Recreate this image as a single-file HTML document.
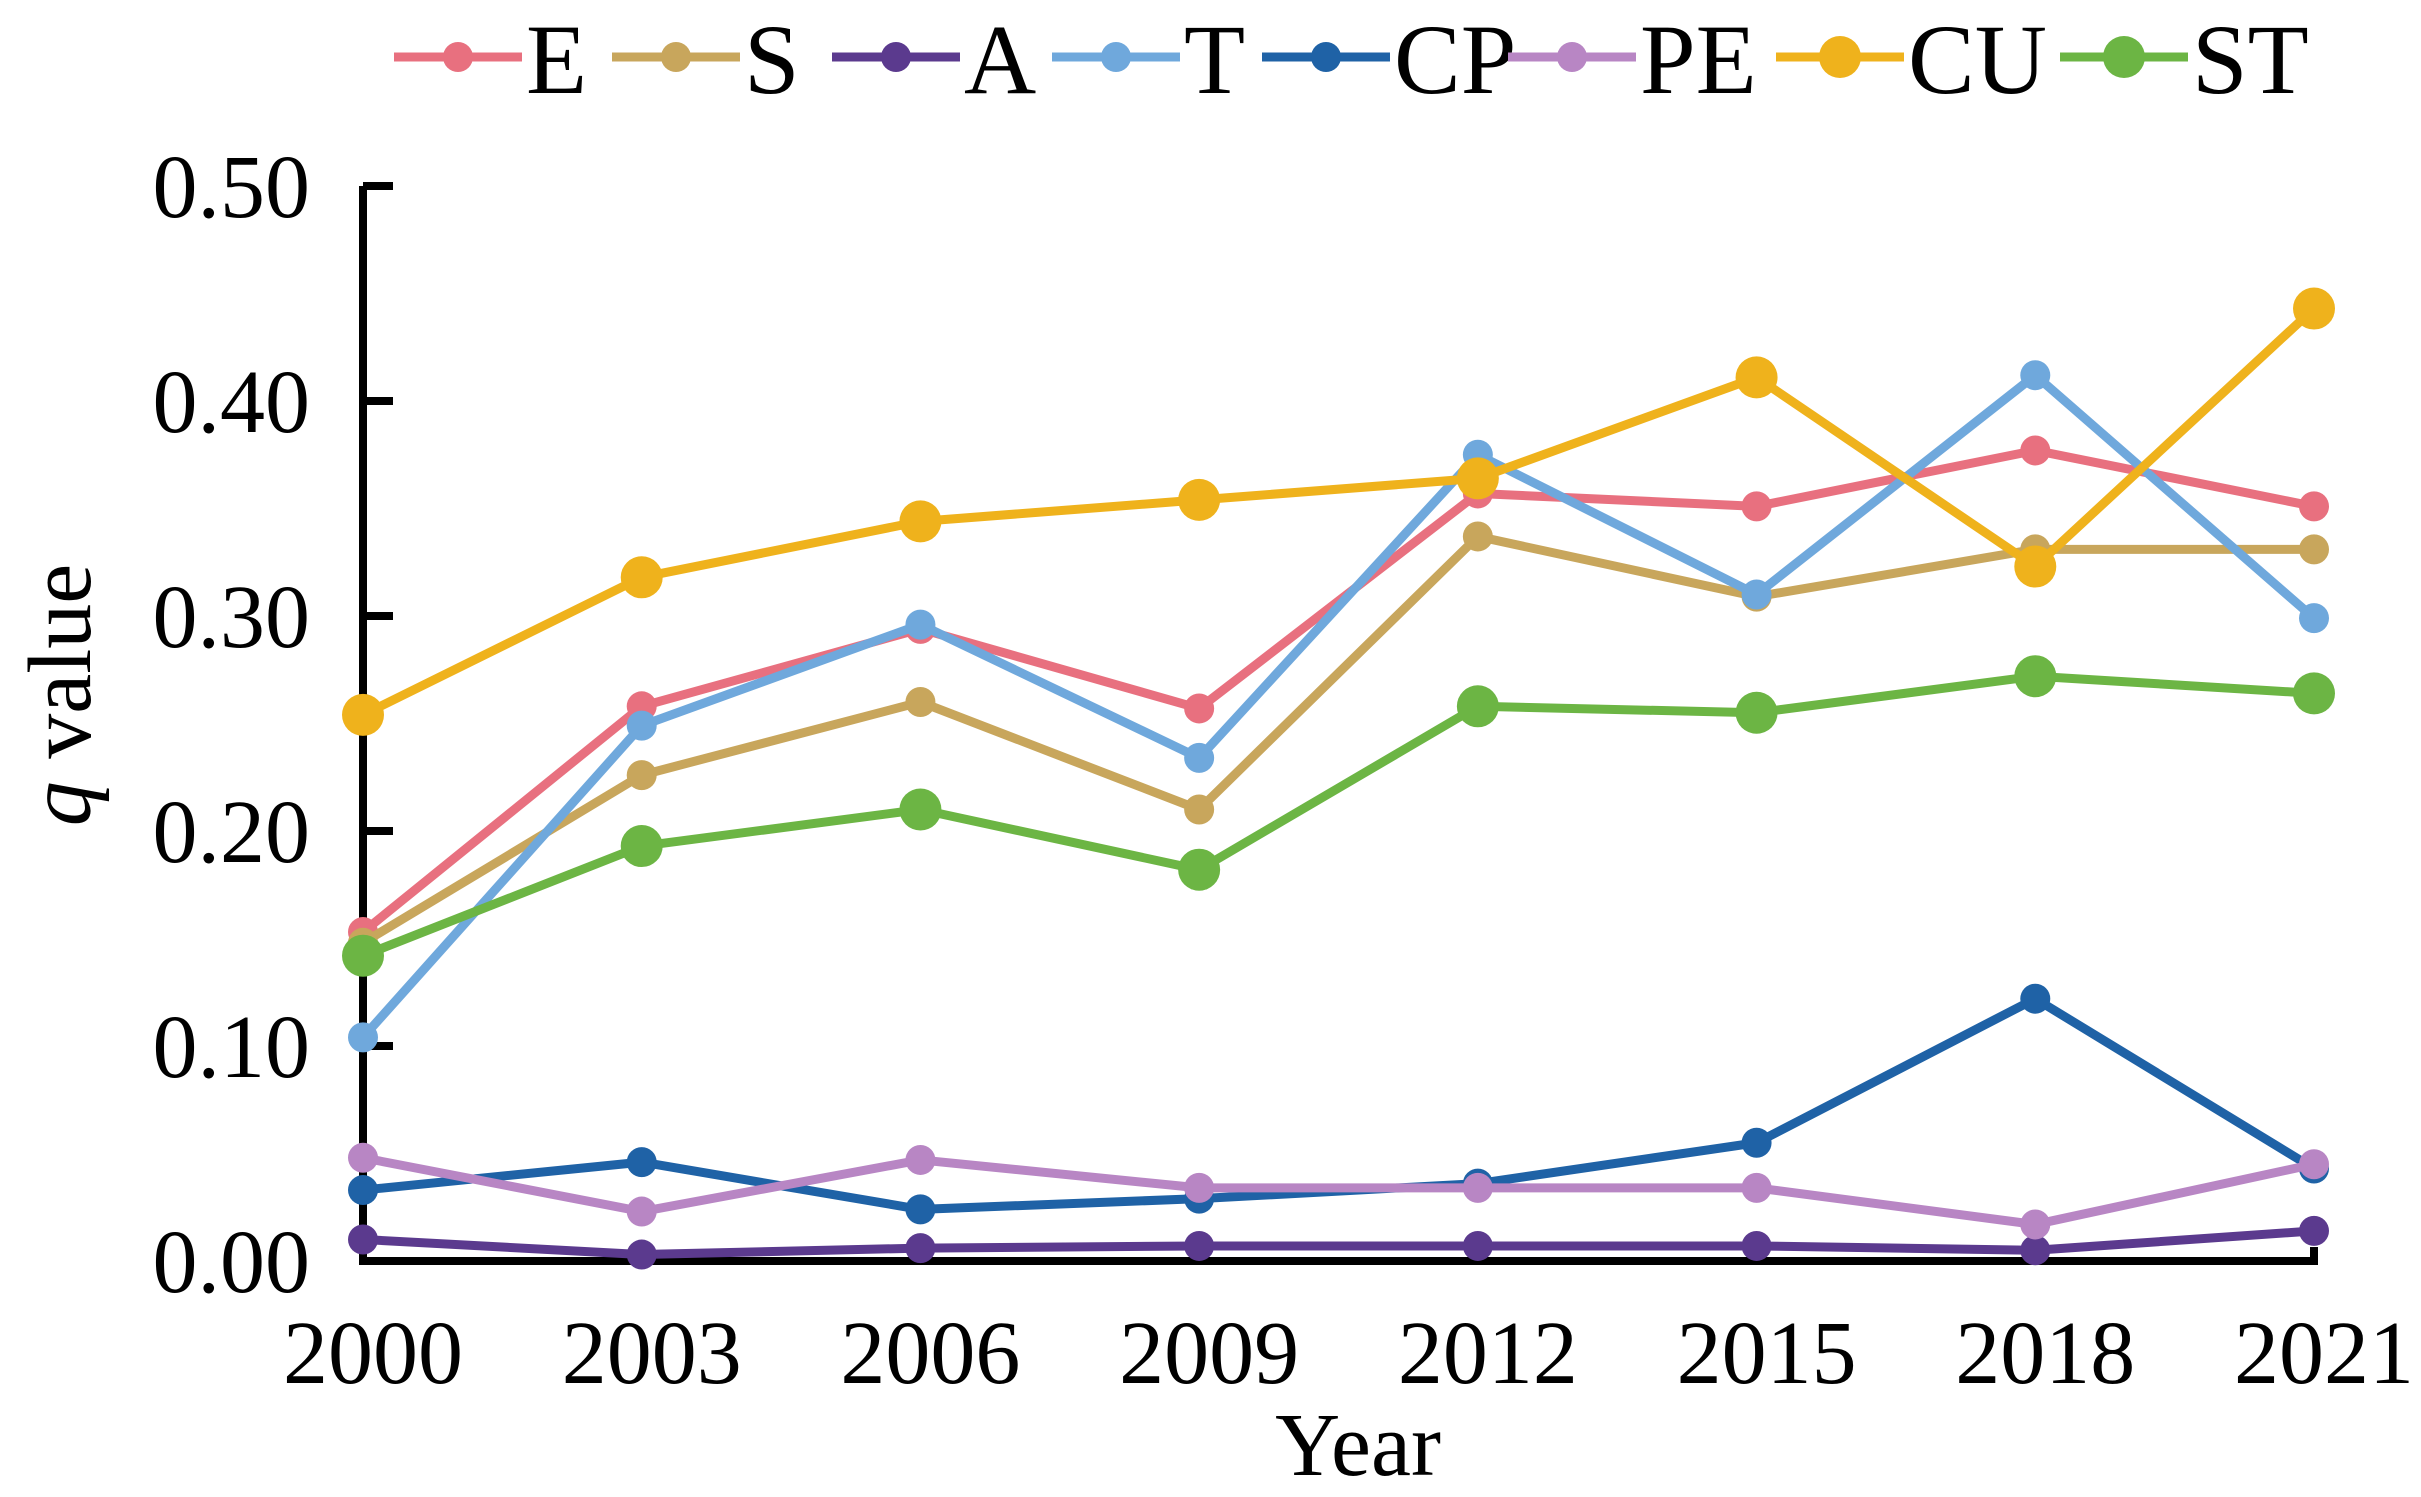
<!DOCTYPE html>
<html><head><meta charset="utf-8"><style>
html,body{margin:0;padding:0;background:#fff;}
svg{display:block;font-family:"Liberation Serif",serif;}
</style></head><body>
<svg id="chart" width="2421" height="1497" viewBox="0 0 2421 1497" xmlns="http://www.w3.org/2000/svg"></svg>
<script>
const years = ["2000","2003","2006","2009","2012","2015","2018","2021"];
const yTicks = [0, 0.1, 0.2, 0.3, 0.4, 0.5];
const yTickLabels = ["0.00","0.10","0.20","0.30","0.40","0.50"];
const seriesNames = ["E","S","A","T","CP","PE","CU","ST"];
const E  = [0.153,0.258,0.294,0.257,0.357,0.351,0.377,0.351];
const S  = [0.148,0.226,0.260,0.210,0.337,0.309,0.331,0.331];
const A  = [0.010,0.003,0.006,0.007,0.007,0.007,0.005,0.014];
const T  = [0.104,0.249,0.296,0.234,0.375,0.310,0.412,0.299];
const CP = [0.033,0.046,0.024,0.029,0.036,0.055,0.122,0.043];
const PE = [0.048,0.023,0.047,0.034,0.034,0.034,0.017,0.045];
const CU = [0.254,0.318,0.344,0.354,0.364,0.411,0.323,0.443];
const ST = [0.142,0.193,0.210,0.182,0.258,0.255,0.272,0.264];

const seriesData = [E,S,A,T,CP,PE,CU,ST];
const colors = ["#e8707f","#c8a65c","#5b3a8e","#6fa8dc","#1f62a6","#b886c4","#efb21c","#6cb544"];
const radii = [15,15,15,15,15,15,21,21];
const ns = "http://www.w3.org/2000/svg";
const svg = document.getElementById("chart");
const X0 = 363, X1 = 2314, Y0 = 1261, Y1 = 186;
function xs(i){ return X0 + (X1 - X0) * i / (years.length - 1); }
function ys(v){ return Y0 - (Y0 - Y1) * v / 0.5; }
function mk(tag, attrs){ const e = document.createElementNS(ns, tag); for (const k in attrs) e.setAttribute(k, attrs[k]); svg.appendChild(e); return e; }

let ax = mk("path", {d:`M${X0},${Y1} L${X0},${Y0} L${X1},${Y0} L${X1},${Y0-14}`, stroke:"#000","stroke-width":8, fill:"none"});


yTicks.forEach((v, i) => {
  const t = mk("line", {x1:X0, x2:X0+30, y1:ys(v), y2:ys(v), stroke:"#000", "stroke-width":8});
  
  
  const l = mk("text", {x:310, y:ys(v)+31, "text-anchor":"end", "font-size":90});
  l.textContent = yTickLabels[i];
  
  
});
years.forEach((y, i) => {
  const l = mk("text", {x:xs(i)+10, y:1383, "text-anchor":"middle", "font-size":90});
  l.textContent = y;
  
  
});
let xt = mk("text", {x:1358, y:1475, "text-anchor":"middle", "font-size":90});
xt.textContent = "Year";


let yt = mk("text", {x:0, y:0, "text-anchor":"middle", "font-size":90, transform:"translate(90,695) rotate(-90)"});
yt.innerHTML = '<tspan font-style="italic">q</tspan> value';



seriesData.forEach((d, s) => {
  const pts = d.map((v, i) => xs(i) + "," + ys(v)).join(" ");
  const pl = mk("polyline", {points:pts, fill:"none", stroke:colors[s], "stroke-width":9, "stroke-linejoin":"round"});
  
  
  d.forEach((v, i) => {
    const c = mk("circle", {cx:xs(i), cy:ys(v), r:radii[s], fill:colors[s]});
    
    
  });
});

const legendX = [394,612,832,1052,1262,1508,1776,2060];
seriesNames.forEach((n, s) => {
  const lx = legendX[s], ly = 57;
  const ln = mk("line", {x1:lx, x2:lx+128, y1:ly, y2:ly, stroke:colors[s], "stroke-width":9});
  
  
  const c = mk("circle", {cx:lx+64, cy:ly, r:radii[s], fill:colors[s]});
  
  
  const t = mk("text", {x:lx+132, y:ly+36, "font-size":100});
  t.textContent = n;
  
  
});
</script>
</body></html>
